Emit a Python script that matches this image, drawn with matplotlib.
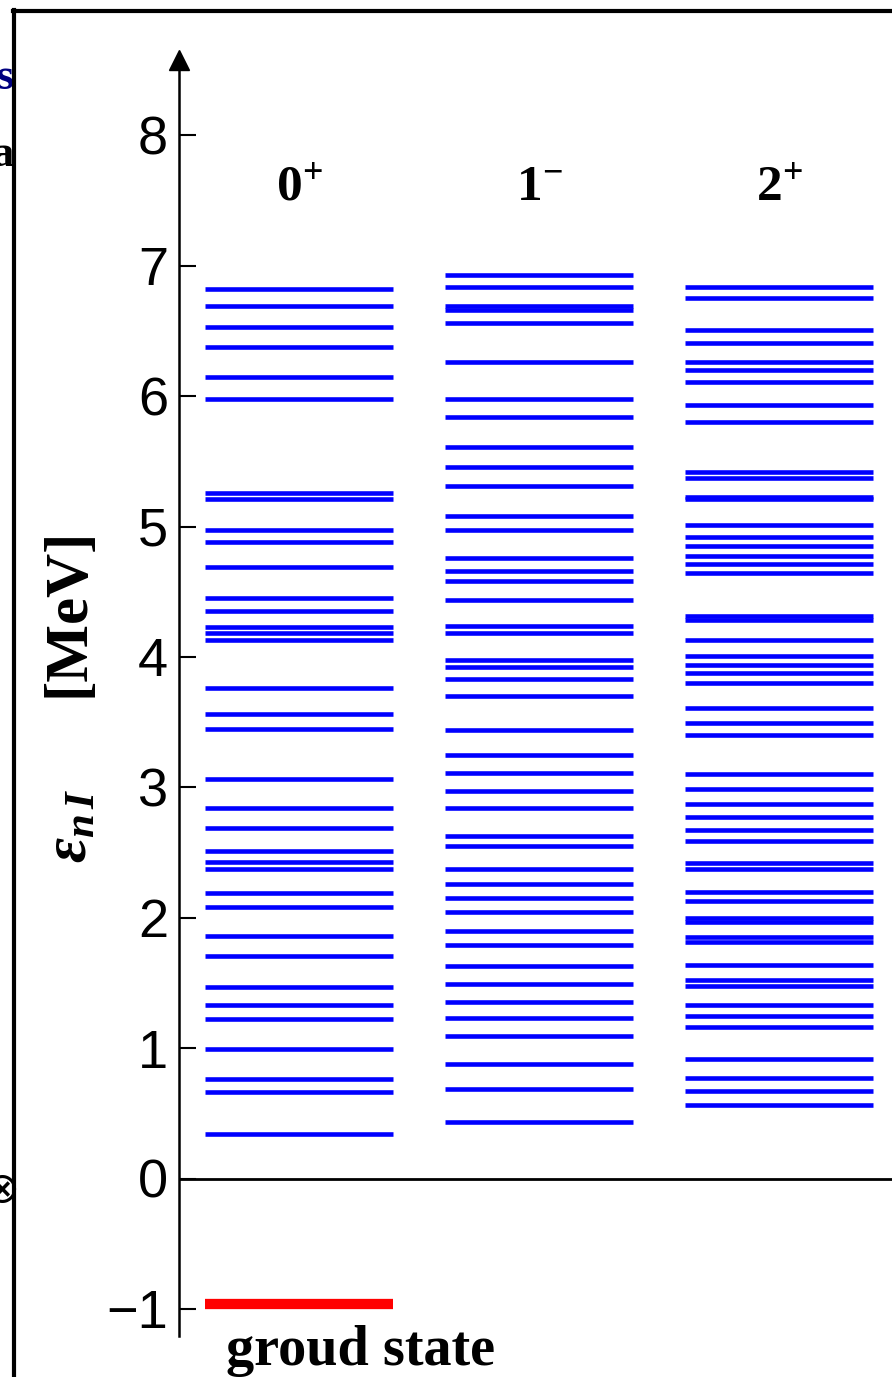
import numpy as np
import matplotlib
matplotlib.use('Agg')
from matplotlib import pyplot as plt
from matplotlib.lines import Line2D

# energy levels [MeV] per spin-parity
levels_0p = [6.82, 6.69, 6.53, 6.38, 6.15, 5.98, 5.26, 5.21, 4.97, 4.88,
             4.69, 4.45, 4.35, 4.23, 4.18, 4.13, 3.76, 3.56, 3.45, 3.06,
             2.84, 2.69, 2.51, 2.43, 2.37, 2.19, 2.08, 1.86, 1.71, 1.47,
             1.33, 1.22, 0.99, 0.76, 0.66, 0.34]
levels_1m = [6.93, 6.84, 6.69, 6.66, 6.56, 6.26, 5.98, 5.84, 5.61, 5.46,
             5.31, 5.08, 4.97, 4.76, 4.66, 4.58, 4.44, 4.24, 4.18, 3.98,
             3.92, 3.83, 3.70, 3.44, 3.25, 3.11, 2.97, 2.84, 2.63, 2.55,
             2.37, 2.26, 2.15, 2.04, 1.90, 1.79, 1.63, 1.49, 1.35, 1.23,
             1.09, 0.88, 0.69, 0.43]
levels_2p = [6.84, 6.75, 6.51, 6.41, 6.26, 6.20, 6.11, 5.93, 5.80, 5.42,
             5.37, 5.23, 5.21, 5.01, 4.92, 4.85, 4.77, 4.71, 4.64, 4.31,
             4.28, 4.13, 4.01, 3.94, 3.88, 3.80, 3.61, 3.49, 3.40, 3.10,
             2.99, 2.87, 2.77, 2.67, 2.59, 2.42, 2.37, 2.20, 2.13, 2.00,
             1.97, 1.85, 1.81, 1.64, 1.52, 1.48, 1.33, 1.25, 1.16, 0.92,
             0.77, 0.67, 0.56]
ground_state = -0.96

column_labels = [r'$\mathbf{0}^{+}$', r'$\mathbf{1}^{-}$', r'$\mathbf{2}^{+}$']
yticks = [-1, 0, 1, 2, 3, 4, 5, 6, 7, 8]

plt.rcParams['mathtext.fontset'] = 'custom'
plt.rcParams['mathtext.rm'] = 'Liberation Serif:bold'
plt.rcParams['mathtext.bf'] = 'Liberation Serif:bold'
plt.rcParams['mathtext.it'] = 'Liberation Serif:italic:bold'

W, H = 892, 1377
fig = plt.figure(figsize=(W / 100, H / 100), dpi=100)


def fx(px):
    return px / W


def fy(py):
    return 1 - py / H


ax_top, ax_bot = 60, 1336
ax = fig.add_axes([fx(179), fy(ax_bot), 1 - fx(179), (ax_bot - ax_top) / H])
px_per_mev = 130.4
zero_px = 1178.5
ax.set_ylim((zero_px - ax_bot) / px_per_mev, (zero_px - ax_top) / px_per_mev)
ax.set_xlim(0, 713 / 240)

half = 94 / 240
for i, lev in enumerate([levels_0p, levels_1m, levels_2p]):
    c = 0.5 + i
    ax.hlines(lev, c - half, c + half, colors='#0000ff', lw=3.3)
    ax.text(c, (zero_px - 200) / px_per_mev, column_labels[i], ha='center',
            va='baseline', fontsize=37)

ax.hlines([ground_state], 0.5 - half, 0.5 + half, colors='#ff0000', lw=7.4)
ax.axhline(0, color='black', lw=2)

for s in ['top', 'right', 'bottom']:
    ax.spines[s].set_visible(False)
ax.spines['left'].set_linewidth(1.8)
ax.set_xticks([])
ax.set_yticks(yticks)
ax.set_yticklabels([str(t) if t >= 0 else '\u2212' + str(-t) for t in yticks],
                   family='Liberation Sans', fontsize=39)
ax.tick_params(axis='y', direction='in', length=12, width=1.5, pad=8)
ax.plot(0, 1, marker='^', color='black', markersize=14, transform=ax.transAxes,
        clip_on=False)

# axis title
fig.text(fx(68), fy(612), '[MeV]', rotation=90, ha='center', va='center',
         family='Liberation Serif', fontweight='bold', fontsize=44)
fig.text(fx(70), fy(826), r'$\epsilon_{n\,I}$', rotation=90, ha='center',
         va='center', fontsize=44)

fig.text(fx(361), fy(1365), 'groud state', ha='center', va='baseline',
         family='Liberation Serif', fontweight='bold', fontsize=40.5)

# page fragments left of the frame
fig.text(fx(15), fy(78), 'ns', ha='right', va='center', color='#000080',
         family='Liberation Serif', fontweight='bold', fontsize=32)
fig.text(fx(14), fy(155), 'a', ha='right', va='center', color='black',
         family='Liberation Serif', fontweight='bold', fontsize=32)
fig.text(fx(2), fy(1190), '\u2297', ha='center', va='center', fontsize=30)

# frame
fig.add_artist(Line2D([fx(14), fx(14)], [fy(10), 0], color='black', lw=3,
                      transform=fig.transFigure, zorder=5))
fig.add_artist(Line2D([fx(12.5), 1], [fy(11), fy(11)], color='black', lw=3,
                      transform=fig.transFigure, zorder=5))

fig.savefig('out.png', dpi=100)
